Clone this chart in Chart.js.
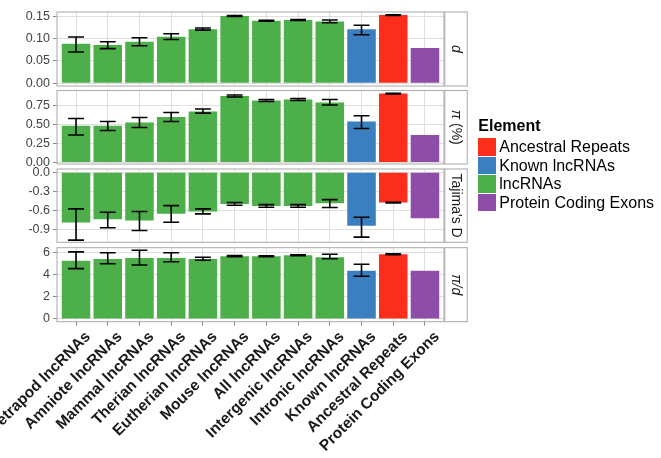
<!DOCTYPE html>
<html><head><meta charset="utf-8">
<script src="https://cdn.jsdelivr.net/npm/chart.js@4/dist/chart.umd.min.js"></script>
<style>
html,body{margin:0;padding:0;background:#fff;}
#wrap{position:relative;width:661px;height:458px;overflow:hidden;background:#fff;}
#wrap canvas{position:absolute;left:0;top:0;}
#legend{position:absolute;left:478.3px;top:117px;font-family:"Liberation Sans",Arial,sans-serif;color:#000;}
#legend .ttl{font-weight:bold;font-size:16px;line-height:18px;height:18px;margin-bottom:3.3px;}
#legend .row{display:flex;align-items:center;height:17.3px;margin-bottom:1.3px;}
#legend .key{width:17.7px;height:17.3px;display:inline-block;}
#legend .lab{font-size:16px;line-height:17.3px;margin-left:3.3px;white-space:nowrap;}
</style></head>
<body>
<div id="wrap">
<canvas id="c0" width="661" height="458"></canvas>
<canvas id="c1" width="661" height="458"></canvas>
<canvas id="c2" width="661" height="458"></canvas>
<canvas id="c3" width="661" height="458"></canvas>
<div id="legend"></div>
</div>
<script>
// ---------- data ----------
const categories = ['Tetrapod lncRNAs','Amniote lncRNAs','Mammal lncRNAs','Therian lncRNAs','Eutherian lncRNAs','Mouse lncRNAs','All lncRNAs','Intergenic lncRNAs','Intronic lncRNAs','Known lncRNAs','Ancestral Repeats','Protein Coding Exons'];
const elementOf = ['lncRNAs','lncRNAs','lncRNAs','lncRNAs','lncRNAs','lncRNAs','lncRNAs','lncRNAs','lncRNAs','Known lncRNAs','Ancestral Repeats','Protein Coding Exons'];
const legendTitle = 'Element';
const legendItems = ['Ancestral Repeats','Known lncRNAs','lncRNAs','Protein Coding Exons'];
const elementColors = {'Ancestral Repeats':'#fa2e1b','Known lncRNAs':'#3a7fbf','lncRNAs':'#4daf4a','Protein Coding Exons':'#8e4da6'};

const dValues = [0.0886,0.0857,0.093,0.104,0.121,0.1506,0.140,0.1416,0.138,0.121,0.1528,0.079];
const dLow    = [0.070,0.0775,0.084,0.098,0.119,0.1495,0.139,0.1405,0.1356,0.1087,0.152,null];
const dHigh   = [0.1036,0.093,0.102,0.111,0.1237,0.1515,0.141,0.1425,0.1416,0.1297,0.1535,null];

const piValues = [0.48,0.48,0.523,0.593,0.667,0.867,0.81,0.823,0.784,0.536,0.90,0.358];
const piLow    = [0.358,0.418,0.457,0.536,0.645,0.855,0.797,0.81,0.75,0.444,0.895,null];
const piHigh   = [0.575,0.536,0.588,0.653,0.698,0.881,0.823,0.836,0.823,0.61,0.905,null];

const tajValues = [-0.784,-0.731,-0.752,-0.648,-0.612,-0.493,-0.524,-0.524,-0.482,-0.835,-0.472,-0.716];
const tajLow    = [-1.058,-0.866,-0.908,-0.778,-0.648,-0.513,-0.544,-0.544,-0.55,-1.011,-0.478,null];
const tajHigh   = [-0.571,-0.622,-0.612,-0.519,-0.571,-0.472,-0.504,-0.504,-0.426,-0.70,-0.466,null];

const ratioValues = [5.25,5.41,5.50,5.50,5.41,5.65,5.65,5.74,5.56,4.35,5.83,4.35];
const ratioLow    = [4.53,4.98,4.86,5.16,5.29,5.62,5.61,5.70,5.43,3.85,5.80,null];
const ratioHigh   = [6.04,5.97,6.19,5.97,5.56,5.71,5.69,5.78,5.83,4.93,5.86,null];

const dTicks = [0,0.05,0.10,0.15];
const dTickLabels = ['0.00','0.05','0.10','0.15'];
const piTicks = [0,0.25,0.50,0.75];
const piTickLabels = ['0.00','0.25','0.50','0.75'];
const tajTicks = [-0.9,-0.6,-0.3,0];
const tajTickLabels = ['-0.9','-0.6','-0.3','0.0'];
const ratioTicks = [0,2,4,6];
const ratioTickLabels = ['0','2','4','6'];

// ---------- layout / style ----------
const W = 661, H = 458;
const FONT = '"Liberation Sans", Arial, Helvetica, sans-serif';
const PLOT_LEFT = 57, PLOT_RIGHT = 444;
const GRID = '#dedede', TICKC = '#8a8a8a', BORDER = '#a8a8a8';

const panels = [
  {id:'c0', values:dValues, low:dLow, high:dHigh, ticks:dTicks, tickLabels:dTickLabels,
   strip:[['d',true]], top:12, bottom:86, min:-0.006, max:0.1595, last:false},
  {id:'c1', values:piValues, low:piLow, high:piHigh, ticks:piTicks, tickLabels:piTickLabels,
   strip:[['π',true],[' (%)',false]], top:90.5, bottom:164, min:-0.02, max:0.94, last:false},
  {id:'c2', values:tajValues, low:tajLow, high:tajHigh, ticks:tajTicks, tickLabels:tajTickLabels,
   strip:[["Tajima's D",false]], top:169, bottom:242.3, min:-1.092, max:0.052, last:false},
  {id:'c3', values:ratioValues, low:ratioLow, high:ratioHigh, ticks:ratioTicks, tickLabels:ratioTickLabels,
   strip:[['π/d',true]], top:247.7, bottom:321.7, min:-0.25, max:6.42, last:true}
];

function facetPlugin(p){
  return {
    id:'facet_'+p.id,
    afterDatasetsDraw(chart){
      const xs = chart.scales.x, ys = chart.scales.y, c = chart.ctx;
      c.save();
      c.strokeStyle = '#000'; c.lineWidth = 1.6; c.lineCap = 'butt';
      p.low.forEach((lo,i)=>{
        const hi = p.high[i];
        if (lo == null || hi == null) return;
        const x = xs.getPixelForValue(i), x0 = xs.getPixelForValue(i-0.25), x1 = xs.getPixelForValue(i+0.25);
        const y0 = ys.getPixelForValue(lo), y1 = ys.getPixelForValue(hi);
        c.beginPath();
        c.moveTo(x0,y0); c.lineTo(x1,y0);
        c.moveTo(x,y0); c.lineTo(x,y1);
        c.moveTo(x0,y1); c.lineTo(x1,y1);
        c.stroke();
      });
      c.restore();
    },
    afterDraw(chart){
      const a = chart.chartArea, c = chart.ctx;
      c.save();
      c.strokeStyle = BORDER; c.lineWidth = 1;
      c.strokeRect(a.left, a.top, a.right-a.left, a.bottom-a.top);
      // strip
      const sx = a.right + 0.8, sw = 22.4;
      c.fillStyle = '#fff';
      c.fillRect(sx, a.top, sw, a.bottom-a.top);
      c.strokeRect(sx, a.top, sw, a.bottom-a.top);
      c.translate(sx + sw/2, (a.top + a.bottom)/2);
      c.rotate(Math.PI/2);
      c.fillStyle = '#1a1a1a';
      c.textBaseline = 'middle';
      c.textAlign = 'left';
      let total = 0;
      const fonts = p.strip.map(([t,it])=>{ const f = (it?'italic ':'') + '14px ' + FONT; c.font = f; const w = c.measureText(t).width; total += w; return [t,f,w]; });
      let x = -total/2;
      fonts.forEach(([t,f,w])=>{ c.font = f; c.fillText(t, x, 0); x += w; });
      c.restore();
    }
  };
}

panels.forEach(p=>{
  new Chart(document.getElementById(p.id), {
    type:'bar',
    data:{datasets:[{
      data: p.values.map((v,i)=>({x:i, y:v})),
      backgroundColor: elementOf.map(e=>elementColors[e]),
      borderWidth:0,
      categoryPercentage:0.9,
      barPercentage:1
    }]},
    options:{
      responsive:false, animation:false, events:[],
      layout:{padding:{left:0, right:W-PLOT_RIGHT, top:p.top, bottom:p.last ? 0 : H-p.bottom}},
      plugins:{legend:{display:false}, tooltip:{enabled:false}},
      scales:{
        x:{
          type:'linear', min:-0.6, max:11.6, offset:false,
          afterBuildTicks:s=>{ s.ticks = categories.map((c,i)=>({value:i})); },
          afterFit:s=>{ s.height = p.last ? (H - p.bottom) : 0; s.paddingLeft = 0; s.paddingRight = 0; },
          grid:{offset:false, color:GRID, lineWidth:1, drawTicks:p.last, tickLength:4, tickColor:TICKC},
          border:{display:false},
          ticks:{display:p.last, autoSkip:false, minRotation:45, maxRotation:45, padding:2, labelOffset:12,
                 font:{family:FONT, size:15.5, weight:'bold'}, color:'#1a1a1a',
                 callback:(v,i)=>categories[i]}
        },
        y:{
          type:'linear', min:p.min, max:p.max,
          afterBuildTicks:s=>{ s.ticks = p.ticks.map(v=>({value:v})); },
          afterFit:s=>{ s.width = PLOT_LEFT; },
          grid:{color:GRID, lineWidth:1, tickLength:4, tickColor:TICKC},
          border:{display:false},
          ticks:{padding:3, font:{family:FONT, size:12.5}, color:'#444',
                 callback:(v,i)=>p.tickLabels[i]}
        }
      }
    },
    plugins:[facetPlugin(p)]
  });
});

// legend
const lg = document.getElementById('legend');
const t = document.createElement('div'); t.className='ttl'; t.textContent = legendTitle; lg.appendChild(t);
legendItems.forEach(name=>{
  const r = document.createElement('div'); r.className='row';
  const k = document.createElement('span'); k.className='key'; k.style.background = elementColors[name];
  const l = document.createElement('span'); l.className='lab'; l.textContent = name;
  r.appendChild(k); r.appendChild(l); lg.appendChild(r);
});
</script>
</body></html>
